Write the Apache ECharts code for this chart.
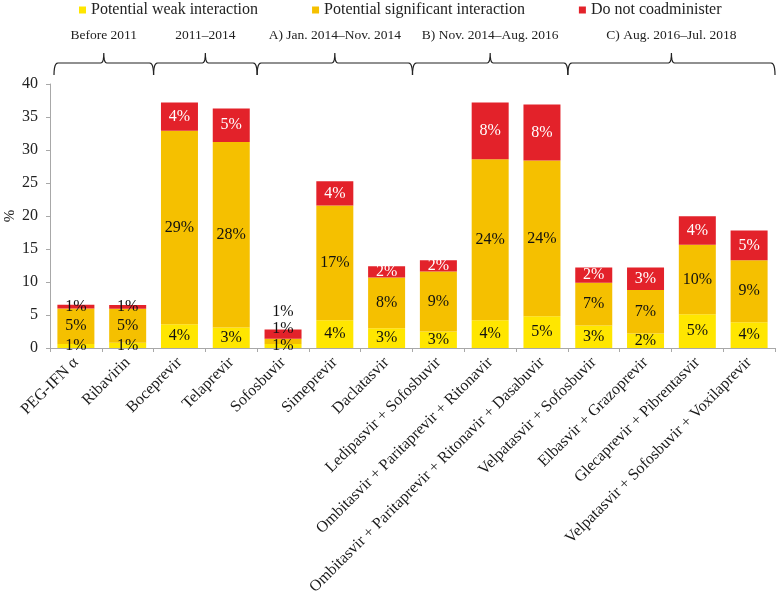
<!DOCTYPE html>
<html><head><meta charset="utf-8">
<script src="https://cdn.jsdelivr.net/npm/echarts@6/dist/echarts.min.js"></script>
<style>html,body{margin:0;padding:0;background:#fff}#c{width:777px;height:604px}</style>
</head><body><div id="c"></div>
<script>
const categories = ['PEG-IFN α','Ribavirin','Boceprevir','Telaprevir','Sofosbuvir','Simeprevir','Daclatasvir','Ledipasvir + Sofosbuvir','Ombitasvir + Paritaprevir + Ritonavir','Ombitasvir + Paritaprevir + Ritonavir + Dasabuvir','Velpatasvir + Sofosbuvir','Elbasvir + Grazoprevir','Glecaprevir + Pibrentasvir','Velpatasvir + Sofosbuvir + Voxilaprevir'];
const weak = [0.6,0.8,3.6,3.1,0.6,4.2,3.0,2.5,4.2,4.8,3.4,2.2,5.1,3.9];
const significant = [5.4,5.15,29.3,28.1,0.8,17.4,7.7,9.1,24.4,23.6,6.5,6.6,10.55,9.4];
const doNot = [0.55,0.55,4.3,5.1,1.4,3.65,1.7,1.7,8.6,8.5,2.3,3.4,4.3,4.5];
const weakLabels = ['1%','1%','4%','3%','1%','4%','3%','3%','4%','5%','3%','2%','5%','4%'];
const sigLabels = ['5%','5%','29%','28%','1%','17%','8%','9%','24%','24%','7%','7%','10%','9%'];
const doNotLabels = ['1%','1%','4%','5%','1%','4%','2%','2%','8%','8%','2%','3%','4%','5%'];
const periodNames = ['Before 2011','2011–2014','A) Jan. 2014–Nov. 2014','B) Nov. 2014–Aug. 2016','C) Aug. 2016–Jul. 2018'];
const periodStarts = [0,2,4,7,10];
const periodEnds = [2,4,7,10,14];
const yAxisTitle = '%';

const FONT = '"Liberation Serif", "DejaVu Serif", serif';
const colors = ['#FFE600','#F5C000','#E3222A'];

function mk(values, overrides){
  return values.map((v,i)=>{
    const o = {value:v};
    if (overrides && overrides[i]) o.label = overrides[i];
    return o;
  });
}
const sigOverrides = {4:{offset:[0,-13]}};
const redOverrides = {0:{color:'#111'},1:{color:'#111'},4:{color:'#111',offset:[0,-22]}};

const chart = echarts.init(document.getElementById('c'));
const lab = (labels, color) => ({show:true, position:'inside', fontFamily:FONT, fontSize:16, color:color,
  formatter: p => labels[p.dataIndex]});
chart.setOption({
  animation:false,
  backgroundColor:'#fff',
  textStyle:{fontFamily:FONT},
  legend:{
    left:74, top:-3, itemWidth:7, itemHeight:7, itemGap:54, icon:'rect',
    textStyle:{fontFamily:FONT, fontSize:16, color:'#222'},
    data:['Potential weak interaction','Potential significant interaction','Do not coadminister']
  },
  grid:{left:50, right:2, top:84, bottom:256, containLabel:false, outerBoundsMode:'none'},
  xAxis:{
    type:'category', data:categories,
    axisLine:{lineStyle:{color:'#a8a8a8'}},
    axisTick:{show:true, length:4, lineStyle:{color:'#a8a8a8'}},
    axisLabel:{rotate:45, interval:0, fontFamily:FONT, fontSize:16, color:'#1a1a1a', margin:12}
  },
  yAxis:{
    type:'value', min:0, max:40, interval:5,
    axisLine:{show:true, lineStyle:{color:'#a8a8a8'}},
    axisTick:{show:true, inside:false, length:4, lineStyle:{color:'#a8a8a8'}},
    axisLabel:{fontFamily:FONT, fontSize:16, color:'#222', margin:12},
    splitLine:{show:false}
  },
  series:[
    {name:'Potential weak interaction', type:'bar', stack:'a', barWidth:37,
     itemStyle:{color:colors[0]}, label:lab(weakLabels,'#111'), data:mk(weak)},
    {name:'Potential significant interaction', type:'bar', stack:'a', barWidth:37,
     itemStyle:{color:colors[1]}, label:lab(sigLabels,'#111'), data:mk(significant,sigOverrides)},
    {name:'Do not coadminister', type:'bar', stack:'a', barWidth:37,
     itemStyle:{color:colors[2]}, label:lab(doNotLabels,'#fff'), data:mk(doNot,redOverrides)}
  ]
});

// braces for periods
const cx = i => chart.convertToPixel({xAxisIndex:0}, i);
const step = cx(1) - cx(0);
const bound = i => cx(0) + (i - 0.5) * step;
const graphics = [];
const yLine = 63, yEnd = 75, yPeak = 53;
function quad(p0, p1, p2, n){
  const pts = [];
  for (let t=0;t<=n;t++){
    const u = t/n;
    pts.push([(1-u)*(1-u)*p0[0]+2*(1-u)*u*p1[0]+u*u*p2[0], (1-u)*(1-u)*p0[1]+2*(1-u)*u*p1[1]+u*u*p2[1]]);
  }
  return pts;
}
periodNames.forEach((name, k) => {
  let x0 = bound(periodStarts[k]), x1 = bound(periodEnds[k]);
  if (k === 0) x0 += 4;
  const xm = (x0 + x1) / 2;
  let pts = [];
  pts = pts.concat(quad([x0,yEnd],[x0,yLine],[x0+4,yLine],6));
  pts = pts.concat(quad([xm-3,yLine],[xm,yLine],[xm,yPeak],5));
  pts = pts.concat(quad([xm,yPeak],[xm,yLine],[xm+3,yLine],5));
  pts = pts.concat(quad([x1-4,yLine],[x1,yLine],[x1,yEnd],6));
  graphics.push({type:'polyline', shape:{points:pts}, style:{fill:null, stroke:'#222', lineWidth:1.2}});
  graphics.push({type:'text', x:xm, y:35, style:{text:name, fontFamily:FONT, fontSize:13.5, fill:'#222', align:'center', verticalAlign:'middle'}});
});
const yMid = chart.convertToPixel({yAxisIndex:0}, 20);
graphics.push({type:'text', x:10, y:yMid, rotation:Math.PI/2,
  style:{text:yAxisTitle, fontFamily:FONT, fontSize:15, fill:'#222', align:'center', verticalAlign:'middle'}});
chart.setOption({graphic:graphics});
</script>
</body></html>
